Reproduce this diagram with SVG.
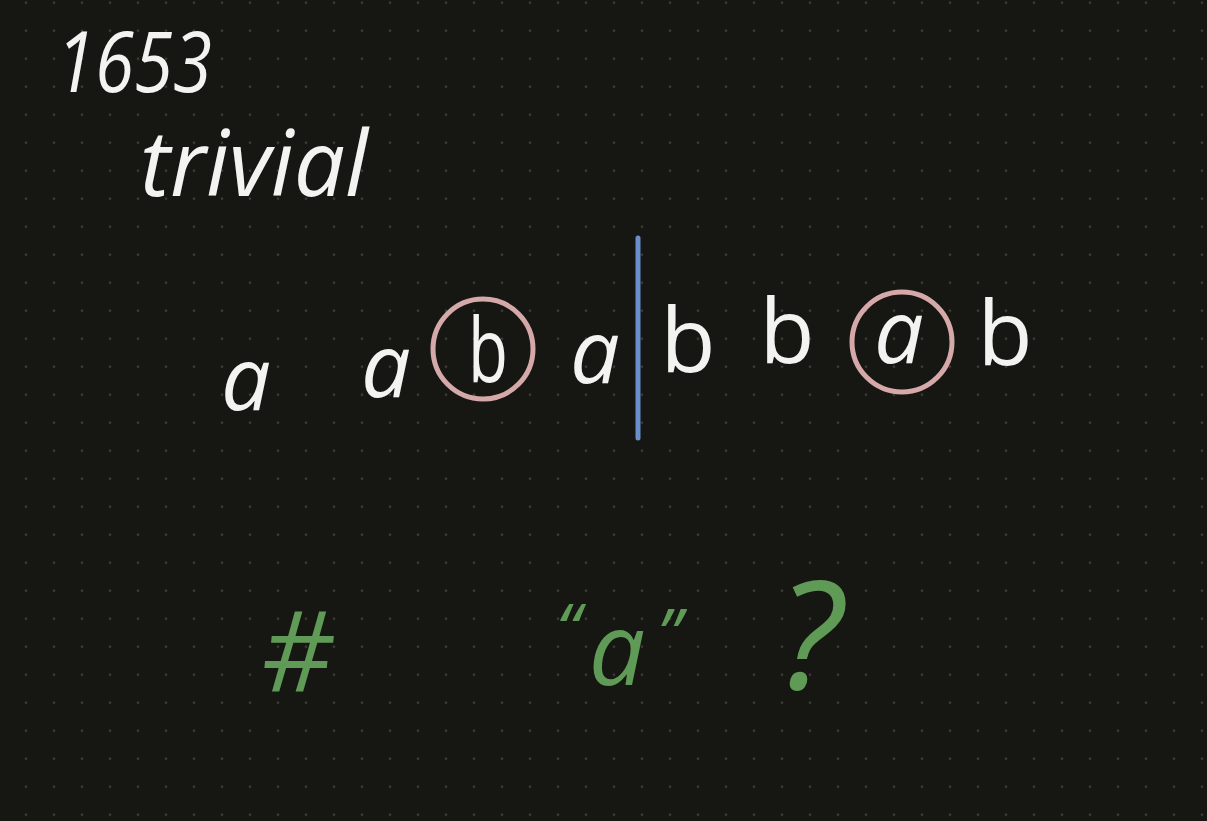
<svg xmlns="http://www.w3.org/2000/svg" width="1207" height="821" viewBox="0 0 1207 821">
  <style>
    .w { fill: #f3f3f1; font-family: "Open Sans", "Noto Sans", sans-serif; font-style: italic; }
    .g { fill: #5f9a56; font-family: "Open Sans", "Noto Sans", sans-serif; font-style: italic; }
    .la { font-size: 88px; text-anchor: middle; }
    .lb { font-size: 90px; text-anchor: middle; font-style: normal; }
    .ring { fill: none; stroke: #d5a8aa; stroke-width: 5; }
  </style>
  <defs>
    <pattern id="dots" x="12" y="-11.3" width="28" height="28" patternUnits="userSpaceOnUse">
      <circle cx="14" cy="14" r="1.3" fill="#3d3e39"/>
    </pattern>
  </defs>
  <rect width="1207" height="821" fill="#161712"/>
  <rect width="1207" height="821" fill="url(#dots)"/>

  <g id="title">
    <text class="w" x="56" y="92" font-size="84" textLength="156" lengthAdjust="spacingAndGlyphs">1653</text>
    <text class="w" x="140" y="196" font-size="92" textLength="228" lengthAdjust="spacingAndGlyphs">trivial</text>
  </g>

  <g id="string">
    <text class="w la" x="246" y="410">a</text>
    <text class="w la" x="386" y="397">a</text>
    <text class="w lb" x="488" y="382" textLength="40" lengthAdjust="spacingAndGlyphs">b</text>
    <text class="w la" x="595" y="383">a</text>
    <text class="w lb" x="688" y="372">b</text>
    <text class="w lb" x="787" y="363">b</text>
    <text class="w la" x="899" y="363">a</text>
    <text class="w lb" x="1005" y="365">b</text>
  </g>

  <g id="marks">
    <circle class="ring" cx="483" cy="349" r="50"/>
    <circle class="ring" cx="902" cy="342" r="50"/>
    <line x1="638" y1="238" x2="638" y2="438" stroke="#6b8fca" stroke-width="5" stroke-linecap="round"/>
  </g>

  <g id="question">
    <text class="g" x="297" y="692" font-size="112" text-anchor="middle">#</text>
    <text class="g" x="568" y="654" font-size="70" text-anchor="middle">“</text>
    <text class="g" x="617" y="685" font-size="100" text-anchor="middle">a</text>
    <text class="g" x="669" y="659" font-size="70" text-anchor="middle">”</text>
    <text class="g" x="810" y="689" font-size="150" text-anchor="middle">?</text>
  </g>
</svg>
